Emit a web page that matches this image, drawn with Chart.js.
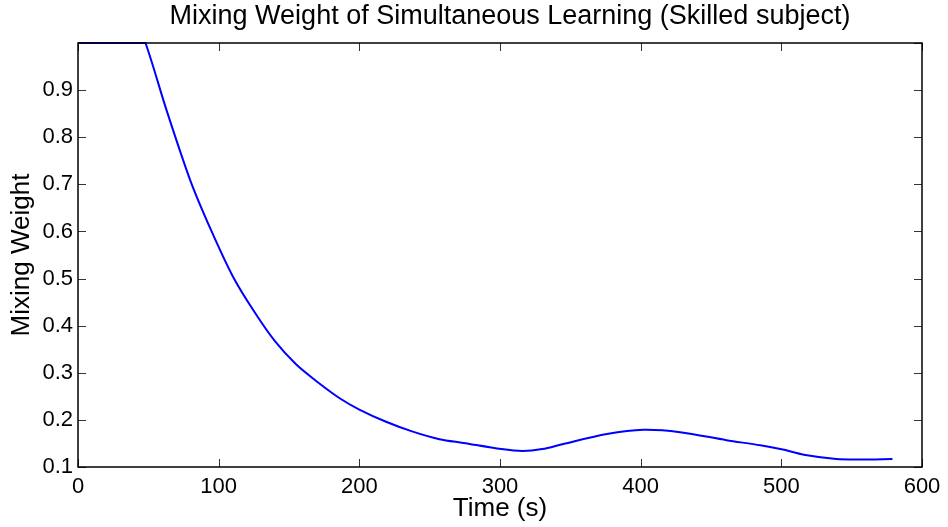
<!DOCTYPE html>
<html>
<head>
<meta charset="utf-8">
<script src="https://cdn.jsdelivr.net/npm/chart.js@4.4.0/dist/chart.umd.min.js"></script>
<style>
  html, body { margin: 0; padding: 0; background: #fff; }
  #wrap { width: 948px; height: 527px; }
</style>
</head>
<body>
<div id="wrap"><canvas id="chart" width="948" height="527"></canvas></div>
<script>
// values
const times = [0, 46, 48, 63, 80, 95, 110, 125, 140, 155, 170, 186, 200, 219, 238, 257, 274, 301, 316, 330, 345, 376, 402, 428, 461, 485, 501, 516, 539, 556, 579];
const weights = [1.0, 1.0, 1.0, 0.857, 0.707, 0.600, 0.505, 0.431, 0.367, 0.318, 0.281, 0.246, 0.222, 0.196, 0.175, 0.159, 0.151, 0.138, 0.134, 0.138, 0.149, 0.170, 0.179, 0.174, 0.157, 0.146, 0.137, 0.126, 0.117, 0.116, 0.117];
const xTicks = [0, 100, 200, 300, 400, 500, 600];
const yTicks = [0.1, 0.2, 0.3, 0.4, 0.5, 0.6, 0.7, 0.8, 0.9, 1.0];

const titleText = 'Mixing Weight of Simultaneous Learning (Skilled subject)';
const xLabel = 'Time (s)';
const yLabel = 'Mixing Weight';

const fontFamily = '"Liberation Sans", Arial, Helvetica, sans-serif';

const points = times.map((t, i) => ({ x: t, y: weights[i] }));

// matlab style box, inward ticks on all four sides, titles
const matlabFrame = {
    id: 'matlabFrame',
    afterDraw(chart) {
        const ctx = chart.ctx;
        const a = chart.chartArea;
        const xs = chart.scales.x;
        const ys = chart.scales.y;
        const len = 8;

        ctx.save();
        ctx.strokeStyle = '#333';
        ctx.lineWidth = 1;
        ctx.beginPath();
        xTicks.forEach(v => {
            const px = Math.round(xs.getPixelForValue(v)) + 0.5;
            ctx.moveTo(px, a.bottom); ctx.lineTo(px, a.bottom - len);
            ctx.moveTo(px, a.top); ctx.lineTo(px, a.top + len);
        });
        yTicks.forEach(v => {
            const py = Math.round(ys.getPixelForValue(v)) + 0.5;
            ctx.moveTo(a.left, py); ctx.lineTo(a.left + len, py);
            ctx.moveTo(a.right, py); ctx.lineTo(a.right - len, py);
        });
        ctx.stroke();

        ctx.strokeStyle = '#000';
        ctx.lineWidth = 1.5;
        ctx.strokeRect(a.left, a.top, a.right - a.left, a.bottom - a.top);

        ctx.fillStyle = '#000';
        ctx.textAlign = 'center';
        ctx.textBaseline = 'middle';
        const cx = (a.left + a.right) / 2;
        ctx.font = '27px ' + fontFamily;
        ctx.fillText(titleText, cx + 10, 17);
        ctx.font = '26px ' + fontFamily;
        ctx.fillText(xLabel, cx, 509);
        ctx.translate(22, (a.top + a.bottom) / 2);
        ctx.rotate(-Math.PI / 2);
        ctx.fillText(yLabel, 0, 0);
        ctx.restore();
    }
};

new Chart(document.getElementById('chart'), {
    type: 'line',
    data: {
        datasets: [{
            data: points,
            borderColor: 'rgb(0, 0, 255)',
            borderWidth: 2,
            pointRadius: 0,
            fill: false,
            tension: 0.3,
            clip: 4
        }]
    },
    options: {
        responsive: false,
        animation: false,
        layout: { padding: { left: 0, right: 26, top: 43, bottom: 0 } },
        plugins: { legend: { display: false }, tooltip: { enabled: false }, title: { display: false } },
        scales: {
            x: {
                type: 'linear',
                min: 0,
                max: 600,
                afterFit: s => { s.height = 60; },
                afterBuildTicks: s => { s.ticks = xTicks.map(v => ({ value: v })); },
                grid: { display: false, drawTicks: false },
                border: { display: false },
                ticks: { color: '#000', font: { family: fontFamily, size: 22 }, padding: 7, maxRotation: 0 }
            },
            y: {
                min: 0.1,
                max: 1.0,
                afterFit: s => { s.width = 78; },
                afterBuildTicks: s => { s.ticks = yTicks.map(v => ({ value: v })); },
                grid: { display: false, drawTicks: false },
                border: { display: false },
                ticks: {
                    color: '#000',
                    font: { family: fontFamily, size: 22 },
                    padding: 5,
                    callback: v => (v >= 0.999 ? '' : v.toFixed(1))
                }
            }
        }
    },
    plugins: [matlabFrame]
});
</script>
</body>
</html>
